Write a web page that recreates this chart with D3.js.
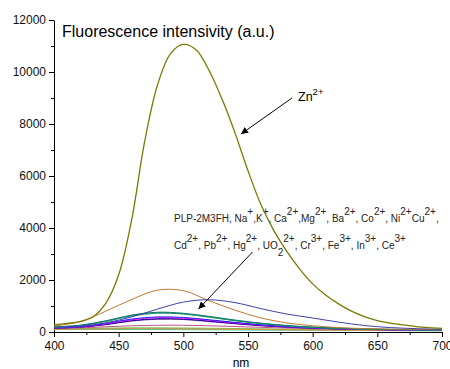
<!DOCTYPE html>
<html>
<head>
<meta charset="utf-8">
<script src="https://cdn.jsdelivr.net/npm/d3@7"></script>
<style>
  body { margin: 0; background: #fff; }
  svg { font-family: Arial, "Liberation Sans", sans-serif; }
  .axis path, .axis line { stroke: #000; }
  .axis text { fill: #111; font-size: 12px; }
</style>
</head>
<body>
<svg id="chart" width="450" height="369"></svg>
<script>
/* wavelengths (nm) */
var wlFine = [400, 410, 420, 430, 440, 450, 460, 470, 480, 490, 500, 510, 520, 530, 540, 550,
              560, 570, 580, 590, 600, 610, 620, 630, 640, 650, 660, 670, 680, 690, 700];
var wlCoarse = [400, 420, 440, 460, 480, 500, 520, 540, 560, 580, 600, 620, 640, 660, 680, 700];

/* Zn2+ spectrum */
var znValues = [270, 330, 400, 580, 1100, 2200, 4300, 7300, 9500, 10700, 11060, 10850, 10050, 8950, 7650, 6200,
                4900, 3900, 3100, 2420, 1850, 1420, 1080, 800, 590, 440, 340, 270, 210, 170, 140];

/* the other ions (coarse grid) */
var brownValues  = [230, 400, 800, 1250, 1610, 1590, 1200, 840, 540, 350, 240, 170, 130, 110, 100, 90];
var blueValues   = [180, 230, 350, 580, 880, 1150, 1240, 1130, 900, 690, 540, 380, 250, 170, 130, 100];
var tealValues   = [200, 260, 430, 650, 760, 720, 600, 460, 340, 250, 190, 150, 120, 100, 90, 80];
var greenValues  = [190, 250, 420, 640, 740, 700, 580, 440, 330, 240, 180, 140, 110, 95, 85, 75];
var cyan2Values  = [180, 240, 400, 610, 720, 690, 570, 430, 320, 235, 175, 140, 110, 95, 85, 75];
var royalValues  = [170, 210, 330, 500, 580, 560, 470, 370, 280, 210, 160, 130, 105, 90, 80, 70];
var magValues    = [160, 200, 310, 470, 550, 530, 450, 350, 270, 200, 155, 125, 100, 88, 78, 70];
var navyValues   = [150, 190, 290, 440, 510, 500, 420, 330, 250, 190, 150, 120, 98, 85, 75, 68];
var purpleValues = [150, 185, 280, 420, 490, 480, 400, 315, 240, 185, 145, 118, 96, 84, 74, 66];
var pinkValues   = [130, 160, 200, 240, 260, 260, 240, 210, 180, 150, 125, 105, 90, 80, 72, 65];
var orangeValues = [100, 110, 115, 120, 120, 115, 110, 100, 90, 80, 70, 65, 60, 55, 52, 50];
var lgreenValues = [120, 135, 150, 160, 160, 155, 145, 135, 120, 105, 95, 85, 78, 72, 66, 60];
var grayValues   = [110, 120, 130, 140, 140, 135, 125, 115, 105, 95, 85, 78, 72, 66, 60, 55];
var cyanValues   = [90, 95, 100, 100, 95, 90, 85, 80, 75, 70, 65, 60, 58, 55, 52, 50];

var xMajor = [400, 450, 500, 550, 600, 650, 700];
var xMinor = [425, 475, 525, 575, 625, 675];
var yMajor = [0, 2000, 4000, 6000, 8000, 10000, 12000];
var yMinor = [1000, 3000, 5000, 7000, 9000, 11000];

var svg = d3.select("#chart");

var x = d3.scaleLinear().domain([400, 700]).range([54, 442]);
var y = d3.scaleLinear().domain([0, 12000]).range([332, 20]);

/* axes */
svg.append("g")
    .attr("class", "axis")
    .attr("transform", "translate(0,332)")
    .call(d3.axisBottom(x).tickValues(xMinor).tickSize(3).tickFormat(""))
    .select(".domain").remove();
svg.append("g")
    .attr("class", "axis")
    .attr("transform", "translate(0,332)")
    .call(d3.axisBottom(x).tickValues(xMajor).tickSize(5).tickSizeOuter(0).tickPadding(4).tickFormat(d3.format("d")));

svg.append("g")
    .attr("class", "axis")
    .attr("transform", "translate(54,0)")
    .call(d3.axisLeft(y).tickValues(yMinor).tickSize(3).tickFormat(""))
    .select(".domain").remove();
svg.append("g")
    .attr("class", "axis")
    .attr("transform", "translate(54,0)")
    .call(d3.axisLeft(y).tickValues(yMajor).tickSize(5).tickSizeOuter(0).tickPadding(3).tickFormat(d3.format("d")));

svg.append("text")
    .attr("x", 241).attr("y", 367)
    .attr("text-anchor", "middle")
    .style("font-size", "12px")
    .text("nm");

svg.append("text")
    .attr("x", 62).attr("y", 37)
    .style("font-size", "16px")
    .text("Fluorescence intensivity (a.u.)");

/* ion list label */
var line1 = [["PLP-2M3FH, Na", 0], ["+", 1], [",K", 0], ["+", 1], [", Ca", 0], ["2+", 1], [",Mg", 0], ["2+", 1],
             [", Ba", 0], ["2+", 1], [", Co", 0], ["2+", 1], [", Ni", 0], ["2+", 1], ["Cu", 0], ["2+", 1], [",", 0]];
var line2 = [["Cd", 0], ["2+", 1], [", Pb", 0], ["2+", 1], [", Hg", 0], ["2+", 1], [", UO", 0], ["2", -1], ["2+", 1],
             [", Cr", 0], ["3+", 1], [", Fe", 0], ["3+", 1], [", In", 0], ["3+", 1], [", Ce", 0], ["3+", 1]];

function ionLine(parts, x0, y0) {
  var t = svg.append("text").attr("x", x0).attr("y", y0).style("font-size", "10px").attr("fill", "#222");
  parts.forEach(function(p) {
    var dy = p[1] === 1 ? -7 : (p[1] === -1 ? 7 : 0);
    t.append("tspan").attr("y", y0 + dy).text(p[0]);
  });
}
ionLine(line1, 174, 222);
ionLine(line2, 174, 249);

/* Zn2+ label */
var zn = svg.append("text").attr("x", 298).attr("y", 101).style("font-size", "12.5px");
zn.append("tspan").text("Zn");
zn.append("tspan").attr("dy", -6).style("font-size", "9.5px").text("2+");

/* curves */
var line = d3.line()
    .x(function(d) { return x(d[0]); })
    .y(function(d) { return y(d[1]); })
    .curve(d3.curveCatmullRom.alpha(0.5));

function pair(wl, vals) { return wl.map(function(w, i) { return [w, vals[i]]; }); }

var others = [
  [cyanValues, "#20c0c0"], [grayValues, "#909090"], [lgreenValues, "#80c040"], [orangeValues, "#d0a040"],
  [pinkValues, "#c0508a"], [purpleValues, "#7030a0"], [navyValues, "#000090"], [magValues, "#ff00ff"],
  [royalValues, "#2020ff"], [cyan2Values, "#3090a0"], [greenValues, "#20a040"], [tealValues, "#107878"]
];
others.forEach(function(o) {
  svg.append("path")
      .datum(pair(wlCoarse, o[0]))
      .attr("fill", "none")
      .attr("stroke", o[1])
      .attr("stroke-width", 1)
      .attr("d", line);
});

svg.append("path").datum(pair(wlCoarse, brownValues))
    .attr("fill", "none").attr("stroke", "#c07a30").attr("stroke-width", 1).attr("d", line);
svg.append("path").datum(pair(wlCoarse, blueValues))
    .attr("fill", "none").attr("stroke", "#4040a8").attr("stroke-width", 1).attr("d", line);
svg.append("path").datum(pair(wlFine, znValues))
    .attr("fill", "none").attr("stroke", "#7a7a00").attr("stroke-width", 1.3).attr("d", line);

/* arrows */
svg.append("defs").append("marker")
    .attr("id", "head")
    .attr("viewBox", "0 0 10 10")
    .attr("refX", 10).attr("refY", 5)
    .attr("markerWidth", 7).attr("markerHeight", 7)
    .attr("markerUnits", "userSpaceOnUse")
    .attr("orient", "auto")
  .append("path")
    .attr("d", "M0,0L10,5L0,10z")
    .attr("fill", "#000");

svg.append("line")
    .attr("x1", 292).attr("y1", 98).attr("x2", 241).attr("y2", 134)
    .attr("stroke", "#000").attr("stroke-width", 1).attr("marker-end", "url(#head)");
svg.append("line")
    .attr("x1", 252.5).attr("y1", 252).attr("x2", 198.5).attr("y2", 309)
    .attr("stroke", "#000").attr("stroke-width", 1).attr("marker-end", "url(#head)");
</script>
</body>
</html>
